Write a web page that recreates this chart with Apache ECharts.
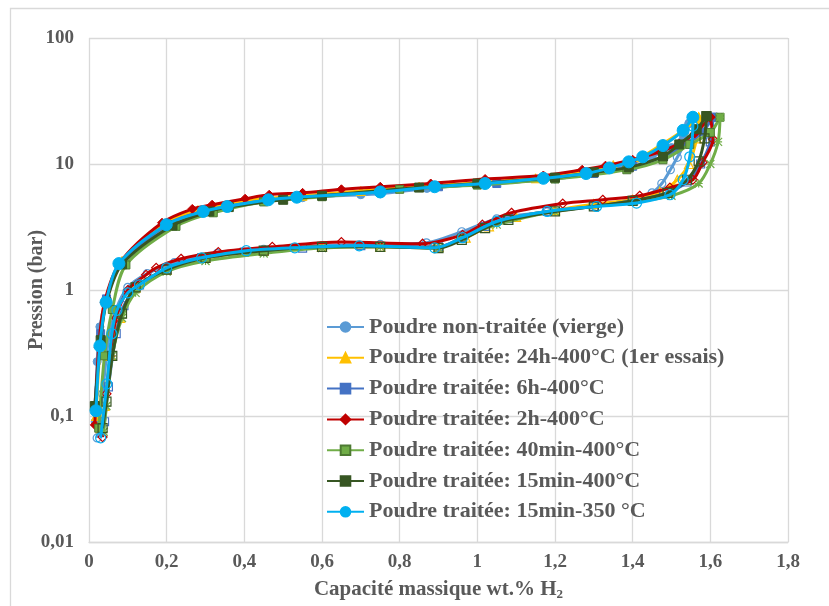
<!DOCTYPE html>
<html><head><meta charset="utf-8">
<script src="https://cdn.jsdelivr.net/npm/echarts@6/dist/echarts.min.js"></script>
<style>html,body{margin:0;padding:0;background:#fff}#c{width:829px;height:606px}</style>
</head><body><div id="c"></div>
<script>
// ---- Data ----
const seriesNames = [
  'Poudre non-traitée (vierge)',
  'Poudre traitée: 24h-400°C (1er essais)',
  'Poudre traitée: 6h-400°C',
  'Poudre traitée: 2h-400°C',
  'Poudre traitée: 40min-400°C',
  'Poudre traitée: 15min-400°C',
  'Poudre traitée: 15min-350 °C'
];
const xTickLabels = ['0','0,2','0,4','0,6','0,8','1','1,2','1,4','1,6','1,8'];
const yTickLabels = ['0,01','0,1','1','10','100'];

// absorption [wt.%, bar]
const absVierge = [[0.016,0.09],[0.021,0.27],[0.028,0.51],[0.045,0.85],[0.08,1.6],[0.2,3.2],[0.3,4.2],[0.45,5.1],[0.55,5.4],[0.7,5.7],[0.75,5.8],[0.87,6.4],[1.0,6.9],[1.2,7.6],[1.3,8.5],[1.38,9.8],[1.45,11.5],[1.5,13.5],[1.53,17],[1.545,21]];
const desVierge = [[1.545,21],[1.535,15],[1.515,11.3],[1.497,9],[1.475,7],[1.45,5.9],[1.4,5.2],[1.3,4.7],[1.18,4.17],[1.05,3.67],[0.96,2.9],[0.869,2.37],[0.75,2.3],[0.6,2.25],[0.45,2.1],[0.33,1.95],[0.22,1.65],[0.15,1.35],[0.1,1.05],[0.07,0.7],[0.05,0.4],[0.035,0.15],[0.021,0.067]];

const abs24h = [[0.018,0.1],[0.03,0.4],[0.045,0.85],[0.085,1.7],[0.19,3.35],[0.28,4.3],[0.4,5.1],[0.55,5.6],[0.7,6.1],[0.85,6.6],[1.0,7.1],[1.15,7.7],[1.27,8.6],[1.35,9.8],[1.42,11.3],[1.478,14.5],[1.53,18.5],[1.57,23.5]];
const des24h = [[1.57,23.5],[1.565,16],[1.545,10],[1.515,7.5],[1.47,6],[1.4,5.2],[1.3,4.8],[1.2,4.3],[1.1,3.8],[1.03,3.2],[0.97,2.6],[0.9,2.2],[0.75,2.2],[0.6,2.2],[0.45,2.05],[0.3,1.8],[0.2,1.45],[0.12,1.05],[0.08,0.6],[0.055,0.3],[0.04,0.12],[0.03,0.08]];

const abs6h = [[0.015,0.12],[0.03,0.45],[0.045,0.85],[0.085,1.65],[0.2,3.3],[0.3,4.25],[0.45,5.1],[0.6,5.6],[0.75,6.0],[0.9,6.6],[1.05,7.0],[1.2,7.7],[1.3,8.4],[1.4,9.6],[1.48,11.5],[1.54,14.5],[1.58,18],[1.607,23.5]];
const des6h = [[1.607,23.5],[1.6,15],[1.575,10],[1.54,7.2],[1.48,5.8],[1.4,5.1],[1.3,4.6],[1.18,4.2],[1.08,3.7],[1.02,3.2],[0.96,2.6],[0.9,2.2],[0.7,2.25],[0.55,2.15],[0.4,2.0],[0.29,1.8],[0.2,1.45],[0.13,1.1],[0.09,0.75],[0.07,0.45],[0.05,0.17],[0.04,0.09]];

const abs2h = [[0.015,0.085],[0.025,0.35],[0.04,0.8],[0.08,1.65],[0.188,3.42],[0.266,4.4],[0.317,4.75],[0.402,5.3],[0.464,5.7],[0.55,5.9],[0.65,6.3],[0.75,6.6],[0.88,7.0],[1.02,7.6],[1.17,8.1],[1.27,9.0],[1.33,9.7],[1.4,10.8],[1.47,12.5],[1.52,14.5],[1.56,17.5],[1.6,23.5]];
const des2h = [[1.6,23.5],[1.607,15.7],[1.58,10.3],[1.555,7.5],[1.496,6.5],[1.418,5.6],[1.323,5.2],[1.22,4.85],[1.088,4.1],[1.013,3.3],[0.962,2.74],[0.859,2.33],[0.65,2.4],[0.472,2.2],[0.333,2.0],[0.237,1.77],[0.173,1.5],[0.147,1.32],[0.1,1.0],[0.07,0.6],[0.055,0.3],[0.045,0.15],[0.035,0.068]];

const abs40min = [[0.025,0.08],[0.04,0.3],[0.06,0.7],[0.095,1.58],[0.224,3.2],[0.32,4.1],[0.45,5.0],[0.6,5.5],[0.8,6.3],[1.0,6.8],[1.2,7.6],[1.385,9.0],[1.478,10.8],[1.547,14.3],[1.6,17.8],[1.625,23.5]];
const des40min = [[1.625,23.5],[1.62,15],[1.6,10],[1.57,7],[1.5,5.6],[1.4,5.0],[1.2,4.2],[1.05,3.3],[0.96,2.6],[0.9,2.15],[0.75,2.2],[0.6,2.15],[0.45,1.95],[0.3,1.7],[0.2,1.4],[0.12,0.95],[0.085,0.6],[0.06,0.3],[0.045,0.12],[0.038,0.075]];

const abs15min400 = [[0.015,0.12],[0.03,0.4],[0.045,0.8],[0.085,1.6],[0.215,3.25],[0.31,4.2],[0.36,4.55],[0.5,5.2],[0.6,5.6],[0.85,6.5],[1.0,7.0],[1.2,7.8],[1.3,8.6],[1.39,9.4],[1.478,11.5],[1.52,14.3],[1.565,18.9],[1.59,24]];
const des15min400 = [[1.59,24],[1.585,16],[1.57,10.5],[1.54,7.5],[1.49,5.9],[1.4,5.1],[1.3,4.6],[1.2,4.2],[1.08,3.6],[1.02,3.1],[0.96,2.5],[0.9,2.15],[0.75,2.2],[0.6,2.2],[0.45,2.05],[0.3,1.8],[0.2,1.45],[0.12,1.05],[0.085,0.65],[0.06,0.3],[0.045,0.13],[0.035,0.08]];

const abs15min350 = [[0.018,0.11],[0.028,0.36],[0.044,0.8],[0.077,1.62],[0.199,3.3],[0.294,4.2],[0.356,4.6],[0.462,5.2],[0.535,5.45],[0.75,6.0],[0.89,6.6],[1.02,7.0],[1.17,7.7],[1.28,8.4],[1.34,9.3],[1.39,10.4],[1.426,11.4],[1.478,14],[1.53,18.5],[1.555,23.5]];
const des15min350 = [[1.555,23.5],[1.555,20],[1.547,11.4],[1.53,7.5],[1.496,5.7],[1.41,4.9],[1.307,4.6],[1.18,4.2],[1.05,3.5],[0.962,2.6],[0.89,2.16],[0.696,2.24],[0.53,2.16],[0.405,2.05],[0.29,1.8],[0.2,1.5],[0.13,1.1],[0.1,0.95],[0.072,0.69],[0.059,0.45],[0.046,0.18],[0.03,0.067]];

// ---- Styles ----
const colors = ['#5B9BD5','#FFC000','#4472C4','#C00000','#70AD47','#375623','#00B0F0'];
const symbols = ['circle','triangle','rect','diamond','rect','rect','circle'];
const symSizes = [8,9,8,9,8,9,12];
const asterisk = 'path://M0,0L10,10M10,0L0,10M5,0L5,10M0,5L10,5';
const absData = [absVierge,abs24h,abs6h,abs2h,abs40min,abs15min400,abs15min350];
const desData = [desVierge,des24h,des6h,des2h,des40min,des15min400,des15min350];

const font = '"Liberation Serif","Times New Roman",serif';
const txt = '#595959';

const series = [];
for (let i = 0; i < seriesNames.length; i++) {
  series.push({
    name: seriesNames[i], type: 'line', data: absData[i], smooth: 0.3,
    symbol: symbols[i], symbolSize: symSizes[i],
    lineStyle: {color: colors[i], width: 3},
    itemStyle: {color: colors[i], borderColor: i===4 ? '#4d7a32' : colors[i], borderWidth: 1},
    z: 2 + i * 2
  });
  series.push({
    name: seriesNames[i], type: 'line', data: desData[i], smooth: 0.3,
    symbol: i===4 ? asterisk : symbols[i], symbolSize: i===6 ? 10 : symSizes[i],
    lineStyle: {color: colors[i], width: 3},
    itemStyle: {color: 'rgba(255,255,255,0)', borderColor: colors[i], borderWidth: 1.2},
    z: 3 + i * 2
  });
}

const chart = echarts.init(document.getElementById('c'), null, {renderer: 'canvas'});
chart.setOption({
  animation: false,
  backgroundColor: '#fff',
  graphic: [{type: 'rect', shape: {x: 10.5, y: 8.5, width: 840, height: 620}, style: {fill: 'none', stroke: '#d9d9d9', lineWidth: 1.3}, silent: true}],
  grid: {left: 89, top: 38, right: 41, bottom: 64, containLabel: false},
  legend: {
    data: seriesNames, orient: 'vertical', left: 326, top: 316, padding: 0,
    itemWidth: 37, itemHeight: 12, itemGap: 8.8,
    textStyle: {fontFamily: font, fontWeight: 'bold', fontSize: 22, color: txt, lineHeight: 22}
  },
  xAxis: {
    type: 'value', min: 0, max: 1.8, interval: 0.2,
    name: 'Capacité massique wt.% H{sub|2}', nameLocation: 'middle', nameGap: 37,
    nameTextStyle: {fontFamily: font, fontWeight: 'bold', fontSize: 21, color: txt,
      rich: {sub: {fontFamily: font, fontWeight: 'bold', fontSize: 13, color: txt, padding: [9,0,0,0]}}},
    axisLine: {show: true, lineStyle: {color: '#d9d9d9', width: 1.3}},
    axisTick: {show: false},
    splitLine: {show: true, lineStyle: {color: '#d9d9d9', width: 1.3}},
    axisLabel: {fontFamily: font, fontWeight: 'bold', fontSize: 19, color: txt, margin: 11,
      formatter: v => xTickLabels[Math.round(v / 0.2)]}
  },
  yAxis: {
    type: 'log', logBase: 10, min: 0.01, max: 100,
    name: 'Pression (bar)', nameLocation: 'middle', nameGap: 42, nameMoveOverlap: false,
    nameTextStyle: {fontFamily: font, fontWeight: 'bold', fontSize: 20, color: txt},
    axisLine: {show: false},
    axisTick: {show: false},
    splitLine: {show: true, lineStyle: {color: '#d9d9d9', width: 1.3}},
    axisLabel: {fontFamily: font, fontWeight: 'bold', fontSize: 19, color: txt, margin: 15,
      formatter: v => yTickLabels[Math.round(Math.log10(v)) + 2]}
  },
  series: series
});
</script></body></html>
